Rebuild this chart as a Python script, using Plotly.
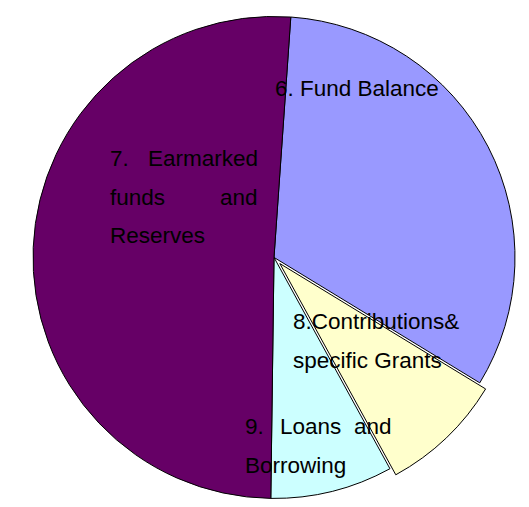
import plotly.graph_objects as go

# ---- data ----
categories = ["6. Fund Balance", "8.Contributions& specific Grants",
              "9. Loans and Borrowing", "7. Earmarked funds and Reserves"]
values = [32.6, 8.3, 8.2, 50.9]
colors = ["#9999FF", "#FFFFCC", "#CCFFFF", "#660066"]
pulls = [0, 0.035, 0, 0]

# label words: (text, x_px, baseline_px, anchor) in page pixels
label_words = [
    ("6. Fund Balance", 275, 97, "left"),
    ("7.", 110, 167, "left"), ("Earmarked", 260, 167, "right"),
    ("funds", 110, 206, "left"), ("and", 260, 206, "right"),
    ("Reserves", 110, 244, "left"),
    ("8.Contributions&", 293, 330, "left"),
    ("specific Grants", 293, 369, "left"),
    ("9.", 245, 435, "left"), ("Loans", 280, 435, "left"), ("and", 394, 435, "right"),
    ("Borrowing", 245, 474, "left"),
]

W, H = 529, 507
OFF = 8          # default body margin of the page
FS = 22.5

# pie placement (figure pixels)
R = 241
half = R * (1 + max(pulls))
cx, cy = 274 - OFF, half
dom_x = [(cx - half) / W, (cx + half) / W]
dom_y = [1 - (cy + half) / H, 1]

fig = go.Figure(go.Pie(
    labels=categories,
    values=values,
    sort=False,
    direction="clockwise",
    rotation=4,
    pull=pulls,
    marker=dict(colors=colors, line=dict(color="black", width=1)),
    textinfo="none",
    hoverinfo="label+percent",
    showlegend=False,
    domain=dict(x=dom_x, y=dom_y),
))

for txt, xp, yb, anc in label_words:
    fig.add_annotation(
        x=(xp - OFF - 1) / W, y=1 - (yb - OFF - 0.36 * FS) / H,
        xref="paper", yref="paper",
        text=txt, showarrow=False,
        xanchor=anc, yanchor="middle",
        borderpad=0,
        font=dict(family="Liberation Sans, Arial, sans-serif", size=FS, color="black"),
    )

fig.update_layout(
    width=W, height=H,
    margin=dict(l=0, r=0, t=0, b=0),
    paper_bgcolor="white",
    plot_bgcolor="white",
)

fig.write_html("out.html")
